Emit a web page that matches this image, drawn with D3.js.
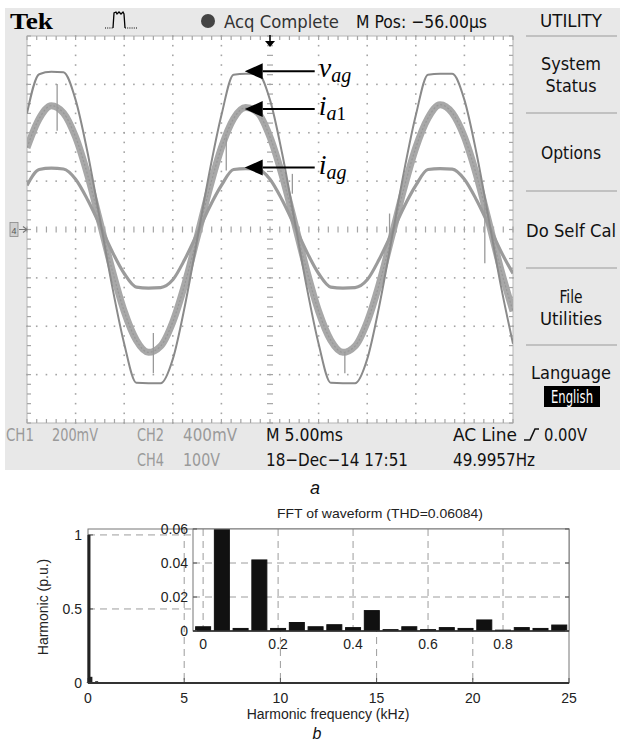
<!DOCTYPE html>
<html><head><meta charset="utf-8">
<script src="https://cdn.jsdelivr.net/npm/d3@7"></script>
<style>body{margin:0;background:#fff}svg{display:block}</style>
</head><body>
<svg id="c" width="624" height="742"></svg>
<script>
// ---------- Oscilloscope data (time in ms, amplitude in divisions) ----------
const timeMs = [-25,-23.75,-22.5,-21.25,-20,-18.75,-17.5,-16.25,-15,-13.75,-12.5,-11.25,-10,-8.75,-7.5,-6.25,
  -5,-3.75,-2.5,-1.25,0,1.25,2.5,3.75,5,6.25,7.5,8.75,10,11.25,12.5,13.75,15,16.25,17.5,18.75,20,21.25,22.5,23.75,25];
const vAg = [2.40,3.21,3.26,3.25,2.68,1.57,0.22,-1.16,-2.36,-3.17,-3.18,-3.18,-2.68,-1.57,-0.22,1.16,
  2.36,3.20,3.22,3.22,2.68,1.57,0.22,-1.16,-2.36,-3.17,-3.18,-3.18,-2.68,-1.57,-0.22,1.16,
  2.36,3.20,3.22,3.22,2.68,1.57,0.22,-1.16,-2.36];
const iA1 = [1.69,2.29,2.56,2.41,1.91,1.12,0.16,-0.83,-1.69,-2.29,-2.54,-2.41,-1.91,-1.12,-0.16,0.83,
  1.69,2.29,2.52,2.41,1.91,1.12,0.16,-0.83,-1.69,-2.29,-2.54,-2.41,-1.91,-1.12,-0.16,0.83,
  1.69,2.30,2.58,2.41,1.91,1.12,0.16,-0.83,-1.69];
const iAg = [0.91,1.24,1.27,1.25,1.04,0.61,0.09,-0.45,-0.91,-1.19,-1.21,-1.20,-1.04,-0.61,-0.09,0.45,
  0.91,1.24,1.26,1.25,1.04,0.61,0.09,-0.45,-0.91,-1.19,-1.21,-1.20,-1.04,-0.61,-0.09,0.45,
  0.91,1.24,1.26,1.25,1.04,0.61,0.09,-0.45,-0.91];
// switching spikes: [time ms, from div, to div]
const spikes = [[-21.9,3.01,2.04],[-4.5,1.90,1.22],[2.3,1.15,0.74],[-12.0,-2.14,-2.97],[7.7,-2.56,-2.97],[22.1,0.60,-0.70],[12.3,0.33,-0.16]];
const traceLabels = [
  {main:'v', sub:'ag', level:3.27},
  {main:'i', sub:'a', sub2:'1', level:2.49},
  {main:'i', sub:'ag', level:1.28}
];
const menuItems = [['UTILITY'],['System','Status'],['Options'],['Do Self Cal'],['File','Utilities'],['Language','English']];
const statusRow1 = ['CH1','200mV','CH2','400mV','M 5.00ms','AC Line','0.00V'];
const statusRow2 = ['CH4','100V','18\u2212Dec\u221214 17:51','49.9957Hz'];

// ---------- FFT data ----------
const harmFreqKHz = [0,0.05,0.10,0.15,0.20,0.25,0.30,0.35,0.40,0.45,0.50,0.55,0.60,0.65,0.70,0.75,0.80,0.85,0.90,0.95];
const harmMag = [0.0025,1.0,0.0015,0.0418,0.0015,0.005,0.0025,0.0037,0.002,0.012,0.0008,0.0025,0.0008,0.002,0.0015,0.0065,0.0005,0.002,0.0015,0.0035];
const mainXTicks = [0,5,10,15,20,25];
const mainYTicks = [0,0.5,1];
const insetXTicks = [0,0.2,0.4,0.6,0.8];
const insetYTicks = [0,0.02,0.04,0.06];

const svg = d3.select('#c');
const COND = "'DejaVu Sans Condensed','Liberation Sans Narrow','Roboto','Liberation Sans',sans-serif";
const ARIAL = "'Liberation Sans',Arial,sans-serif";

function txt(g, x, y, s, o) {
  o = o || {};
  const t = g.append('text').attr('x', x).attr('y', y).text(s)
    .attr('font-family', o.family || COND).attr('font-size', o.size || 18)
    .attr('fill', o.fill || '#111').attr('text-anchor', o.anchor || 'start');
  if (o.width) t.attr('textLength', o.width).attr('lengthAdjust', 'spacingAndGlyphs');
  if (o.weight) t.attr('font-weight', o.weight);
  if (o.style) t.attr('font-style', o.style);
  return t;
}

// ---------- Scope panel ----------
svg.append('rect').attr('x',5).attr('y',8).attr('width',615).attr('height',462).attr('fill','#e8e8e8');
const xS = d3.scaleLinear().domain([-25,25]).range([27,513]);
const yS = d3.scaleLinear().domain([-4,4]).range([423,36]);
const scr = svg.append('g');
scr.append('rect').attr('x',xS(-25)).attr('y',yS(4)).attr('width',xS(25)-xS(-25)).attr('height',yS(-4)-yS(4))
  .attr('fill','#fff').attr('stroke','#b5b5b5').attr('stroke-width',1);

const gridCol = '#a4a4a4';
for (let t=-20; t<=20; t+=5) {
  if (t===0) continue;
  d3.range(-4,4.01,0.2).forEach(v => scr.append('rect').attr('x',xS(t)-0.8).attr('y',yS(v)-0.8).attr('width',1.6).attr('height',1.6).attr('fill',gridCol));
}
for (let v=-3; v<=3; v++) {
  if (v===0) continue;
  d3.range(-25,25.01,1).forEach(t => scr.append('rect').attr('x',xS(t)-0.8).attr('y',yS(v)-0.8).attr('width',1.6).attr('height',1.6).attr('fill',gridCol));
}
d3.range(-25,25.01,1).forEach(t => {
  scr.append('line').attr('x1',xS(t)).attr('x2',xS(t)).attr('y1',yS(0)-3).attr('y2',yS(0)+3).attr('stroke',gridCol).attr('stroke-width',1.2);
  scr.append('line').attr('x1',xS(t)).attr('x2',xS(t)).attr('y1',yS(4)).attr('y2',yS(4)+4).attr('stroke',gridCol).attr('stroke-width',1.2);
  scr.append('line').attr('x1',xS(t)).attr('x2',xS(t)).attr('y1',yS(-4)).attr('y2',yS(-4)-4).attr('stroke',gridCol).attr('stroke-width',1.2);
});
d3.range(-4,4.01,0.2).forEach(v => {
  scr.append('line').attr('x1',xS(0)-3).attr('x2',xS(0)+3).attr('y1',yS(v)).attr('y2',yS(v)).attr('stroke',gridCol).attr('stroke-width',1.2);
  scr.append('line').attr('x1',xS(-25)).attr('x2',xS(-25)+4).attr('y1',yS(v)).attr('y2',yS(v)).attr('stroke',gridCol).attr('stroke-width',1.2);
  scr.append('line').attr('x1',xS(25)).attr('x2',xS(25)-4).attr('y1',yS(v)).attr('y2',yS(v)).attr('stroke',gridCol).attr('stroke-width',1.2);
});

// traces
svg.append('clipPath').attr('id','scrclip').append('rect').attr('x',xS(-25)).attr('y',yS(4)).attr('width',xS(25)-xS(-25)).attr('height',yS(-4)-yS(4));
const tr = scr.append('g').attr('clip-path','url(#scrclip)');
const mk = arr => d3.line().x((d,i)=>xS(timeMs[i])).y(d=>yS(d)).curve(d3.curveMonotoneX)(arr);
tr.append('path').attr('d',mk(iA1)).attr('fill','none').attr('stroke','#a8a8a8').attr('stroke-width',7);
tr.append('path').attr('d',mk(iA1)).attr('fill','none').attr('stroke','#979797').attr('stroke-width',1.2).attr('stroke-dasharray','2,2');
tr.append('path').attr('d',mk(iAg)).attr('fill','none').attr('stroke','#9b9b9b').attr('stroke-width',3.2);
tr.append('path').attr('d',mk(vAg)).attr('fill','none').attr('stroke','#8a8a8a').attr('stroke-width',2);
spikes.forEach(s => tr.append('line').attr('x1',xS(s[0])).attr('x2',xS(s[0])).attr('y1',yS(s[1])).attr('y2',yS(s[2])).attr('stroke','#999').attr('stroke-width',1.3));

// trigger-position marker
scr.append('line').attr('x1',xS(0)).attr('x2',xS(0)).attr('y1',yS(4)-1).attr('y2',yS(4)+6).attr('stroke','#000').attr('stroke-width',1.5);
scr.append('path').attr('d',`M${xS(0)-5},${yS(4)+5}L${xS(0)+5},${yS(4)+5}L${xS(0)},${yS(4)+11}Z`).attr('fill','#000');

// ground marker
const gm = svg.append('g');
gm.append('rect').attr('x',10).attr('y',yS(0)-7).attr('width',8).attr('height',14).attr('fill','#d0d0d0').attr('stroke','#888').attr('stroke-width',0.8);
txt(gm,14,yS(0)+4,'4',{size:9,anchor:'middle',fill:'#555',family:ARIAL});
gm.append('path').attr('d',`M19,${yS(0)}L27,${yS(0)}M23,${yS(0)-3}L27,${yS(0)}L23,${yS(0)+3}`).attr('stroke','#777').attr('stroke-width',1.2).attr('fill','none');

// annotation arrows
const tipX = xS(-2.6), baseX = xS(-0.75), lineEnd = xS(4.6);
traceLabels.forEach(L => {
  const y = yS(L.level);
  svg.append('path').attr('d',`M${tipX},${y}L${baseX},${y-8}L${baseX},${y+8}Z`).attr('fill','#000');
  svg.append('line').attr('x1',baseX).attr('x2',lineEnd).attr('y1',y).attr('y2',y).attr('stroke','#000').attr('stroke-width',2);
  const t = svg.append('text').attr('x',lineEnd+4).attr('y',y+6).attr('font-family',"'Liberation Serif','DejaVu Serif',serif").attr('fill','#000');
  t.append('tspan').text(L.main).attr('font-style','italic').attr('font-size',28);
  t.append('tspan').text(L.sub).attr('font-style','italic').attr('font-size',20).attr('dy',5);
  if (L.sub2) t.append('tspan').text(L.sub2).attr('font-size',19);
});

// top bar
txt(svg,10,29,'Tek',{family:"'Liberation Serif','DejaVu Serif',serif",weight:'bold',size:24,width:43,fill:'#000'});
svg.append('path').attr('d','M105,28L113,28').attr('stroke','#000').attr('stroke-width',1.2).attr('stroke-dasharray','1,1.2');
svg.append('path').attr('d','M113,28L114,13L116,12L117,14L119,12L121,14L123,12L124,14L125,28').attr('stroke','#000').attr('stroke-width',1.3).attr('fill','none');
svg.append('path').attr('d','M125,28L137,28').attr('stroke','#000').attr('stroke-width',1.2).attr('stroke-dasharray','1,1.2');
svg.append('circle').attr('cx',208).attr('cy',21).attr('r',7).attr('fill','#444');
txt(svg,224,28,'Acq Complete',{width:115,fill:'#333'});
txt(svg,356,28,'M Pos: \u221256.00\u00b5s',{width:131,fill:'#111'});

// right menu
const menuX = 571;
const menuSep = [36,113,191,268,345];
menuSep.forEach(y => svg.append('line').attr('x1',526).attr('x2',617).attr('y1',y).attr('y2',y).attr('stroke','#9a9a9a').attr('stroke-width',1.2));
const menuPos = [[27],[70,92],[159],[237],[303,325],[379,403]];
const menuW = {'UTILITY':62,'System':60,'Status':51,'Options':60,'Do Self Cal':90,'File':23,'Utilities':62,'Language':80,'English':42};
menuItems.forEach((lines,i) => lines.forEach((s,j) => {
  const y = menuPos[i][j];
  if (s==='English') {
    svg.append('rect').attr('x',menuX-27).attr('y',y-17).attr('width',56).attr('height',21).attr('fill','#000');
    txt(svg,menuX+1,y,s,{anchor:'middle',width:menuW[s],fill:'#fff'});
  } else txt(svg,menuX,y,s,{anchor:'middle',width:menuW[s],fill:'#111'});
}));

// status bar
const gray = '#9a9a9a';
txt(svg,6,441,statusRow1[0],{width:28,fill:gray});
txt(svg,52,441,statusRow1[1],{width:46,fill:gray});
txt(svg,137,441,statusRow1[2],{width:27,fill:gray});
txt(svg,183,441,statusRow1[3],{width:54,fill:gray});
txt(svg,266,441,statusRow1[4],{width:77,fill:'#111'});
txt(svg,453,441,statusRow1[5],{width:64,fill:'#111'});
svg.append('path').attr('d','M524,440L530,440L535,429L539,429').attr('stroke','#111').attr('stroke-width',1.6).attr('fill','none');
txt(svg,544,441,statusRow1[6],{width:43,fill:'#111'});
txt(svg,137,466,statusRow2[0],{width:27,fill:gray});
txt(svg,183,466,statusRow2[1],{width:37,fill:gray});
txt(svg,266,466,statusRow2[2],{width:142,fill:'#111'});
txt(svg,453,466,statusRow2[3],{width:82,fill:'#111'});

txt(svg,315,494,'a',{family:ARIAL,style:'italic',size:18,anchor:'middle',fill:'#111'});

// ---------- FFT panel ----------
const fx = d3.scaleLinear().domain([0,25]).range([88,569]);
const fy = d3.scaleLinear().domain([0,1.04]).range([683,529]);
const ix = d3.scaleLinear().domain([-0.027,0.976]).range([193,569]);
const iy = d3.scaleLinear().domain([0,0.06]).range([631,529]);
const fg = svg.append('g');
const dash = '7,5', gridC = '#9c9c9c';

mainYTicks.filter(v=>v>0).forEach(v => fg.append('line').attr('x1',fx(0)).attr('x2',fx(25)).attr('y1',fy(v)).attr('y2',fy(v)).attr('stroke',gridC).attr('stroke-dasharray',dash));
mainXTicks.filter(f=>f>0&&f<25).forEach(f => fg.append('line').attr('x1',fx(f)).attr('x2',fx(f)).attr('y1',fy(1.04)).attr('y2',fy(0)).attr('stroke',gridC).attr('stroke-dasharray',dash));
fg.append('rect').attr('x',fx(0)).attr('y',fy(1.04)).attr('width',fx(25)-fx(0)).attr('height',fy(0)-fy(1.04)).attr('fill','none').attr('stroke','#777');
mainXTicks.forEach(f => {
  fg.append('line').attr('x1',fx(f)).attr('x2',fx(f)).attr('y1',fy(0)).attr('y2',fy(0)-5).attr('stroke','#555');
  txt(fg,fx(f),703,String(f),{family:ARIAL,size:14,anchor:'middle',fill:'#222'});
});
mainYTicks.forEach(v => {
  fg.append('line').attr('x1',fx(0)).attr('x2',fx(0)+5).attr('y1',fy(v)).attr('y2',fy(v)).attr('stroke','#555');
  fg.append('line').attr('x1',fx(25)).attr('x2',fx(25)-5).attr('y1',fy(v)).attr('y2',fy(v)).attr('stroke','#555');
  txt(fg,82,fy(v)+5,String(v),{family:ARIAL,size:14,anchor:'end',fill:'#222'});
});
harmFreqKHz.forEach((f,i) => fg.append('rect').attr('x',fx(f)-1.5).attr('width',3).attr('y',fy(harmMag[i])).attr('height',Math.max(0,fy(0)-fy(harmMag[i]))).attr('fill','#222'));
fg.append('line').attr('x1',fx(0)).attr('x2',fx(25)).attr('y1',fy(0)).attr('y2',fy(0)).attr('stroke','#333').attr('stroke-width',2);

// inset
fg.append('rect').attr('x',ix(-0.027)).attr('y',iy(0.06)).attr('width',ix(0.976)-ix(-0.027)).attr('height',iy(0)-iy(0.06)).attr('fill','#fff');
insetYTicks.filter(v=>v>0&&v<0.06).forEach(v => fg.append('line').attr('x1',ix(-0.027)).attr('x2',ix(0.976)).attr('y1',iy(v)).attr('y2',iy(v)).attr('stroke',gridC).attr('stroke-dasharray',dash));
insetXTicks.forEach(f => fg.append('line').attr('x1',ix(f)).attr('x2',ix(f)).attr('y1',iy(0.06)).attr('y2',iy(0)).attr('stroke',gridC).attr('stroke-dasharray',dash));
svg.append('clipPath').attr('id','insclip').append('rect').attr('x',ix(-0.027)).attr('y',iy(0.06)).attr('width',ix(0.976)-ix(-0.027)).attr('height',iy(0)-iy(0.06));
const ib = fg.append('g').attr('clip-path','url(#insclip)');
harmFreqKHz.forEach((f,i) => ib.append('rect').attr('x',ix(f-0.02)).attr('width',ix(f+0.02)-ix(f-0.02)).attr('y',iy(harmMag[i])).attr('height',iy(0)-iy(harmMag[i])).attr('fill','#111').attr('stroke','#111').attr('stroke-width',1));
fg.append('rect').attr('x',ix(-0.027)).attr('y',iy(0.06)).attr('width',ix(0.976)-ix(-0.027)).attr('height',iy(0)-iy(0.06)).attr('fill','none').attr('stroke','#777');
fg.append('line').attr('x1',ix(-0.027)).attr('x2',ix(0.976)).attr('y1',iy(0)).attr('y2',iy(0)).attr('stroke','#222').attr('stroke-width',1.5);
insetXTicks.forEach(f => txt(fg,ix(f),649,String(f),{family:ARIAL,size:14,anchor:'middle',fill:'#222'}));
insetYTicks.forEach(v => {
  fg.append('line').attr('x1',ix(-0.027)).attr('x2',ix(-0.027)+4).attr('y1',iy(v)).attr('y2',iy(v)).attr('stroke','#555');
  fg.append('line').attr('x1',ix(0.976)).attr('x2',ix(0.976)-4).attr('y1',iy(v)).attr('y2',iy(v)).attr('stroke','#555');
  txt(fg,188,iy(v)+5,String(v),{family:ARIAL,size:14,anchor:'end',fill:'#222'});
});

txt(fg,380,518,'FFT of waveform (THD=0.06084)',{family:ARIAL,size:13,anchor:'middle',fill:'#222',width:206});
txt(fg,328,719,'Harmonic frequency (kHz)',{family:ARIAL,size:14,anchor:'middle',fill:'#222'});
txt(fg,0,0,'Harmonic (p.u.)',{family:ARIAL,size:14,anchor:'middle',fill:'#222'}).attr('transform','translate(48,607) rotate(-90)');
txt(fg,317,739,'b',{family:ARIAL,style:'italic',size:16,anchor:'middle',fill:'#111'});
</script></body></html>
